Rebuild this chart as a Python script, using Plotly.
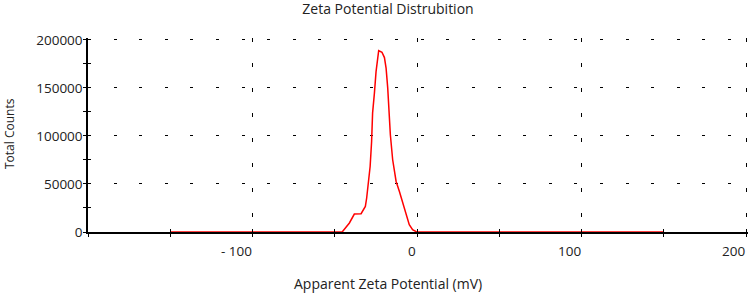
import plotly.graph_objects as go

# Data
potential_mv = [-150, -45.5, -41.1, -38.1, -34.0, -31.4, -30.6, -29.4, -28.5, -27.6, -27.0,
                -25.9, -24.9, -23.3, -21.3, -19.8, -18.8, -17.8, -16.8, -16.2, -14.8,
                -12.7, -10.7, -7.7, -4.7, -2.7, -0.2, 150]
total_counts = [0, 0, 9400, 18700, 19000, 26600, 35400, 51000, 68200, 94200, 124000,
                144600, 167000, 188900, 187200, 181600, 170600, 149800, 122000, 101200, 75200,
                52600, 42200, 25000, 7600, 2400, 0, 0]

x_tickvals = [-100, 0, 100, 200]
x_ticktext = ["- 100", "0", "100", "200"]
y_tickvals = [0, 50000, 100000, 150000, 200000]
y_ticktext = ["0", "50000", "100000", "150000", "200000"]

FONT = "Open Sans"
TXT = "#222222"
X_RANGE = [-200, 201.2]
Y_RANGE = [0, 202000]

L, R, T, B = 88, 2, 38, 62
W, H = 750, 294
PW, PH = W - L - R, H - T - B

fig = go.Figure()
fig.add_trace(go.Scatter(x=potential_mv, y=total_counts, mode="lines",
                         line=dict(color="#ff0000", width=1.5), showlegend=False,
                         hoverinfo="skip"))
# invisible trace to activate overlay axes (inside half of crossing ticks)
fig.add_trace(go.Scatter(x=[0], y=[0], xaxis="x2", yaxis="y2", mode="markers",
                         marker=dict(opacity=0), showlegend=False, hoverinfo="skip"))

fig.update_layout(
    width=W, height=H,
    margin=dict(l=L, r=R, t=T, b=B),
    paper_bgcolor="white", plot_bgcolor="white",
    font=dict(family=FONT, size=13, color=TXT),
    title=dict(text="Zeta Potential Distrubition", x=388/W, xref="container",
               xanchor="center", y=1 - 9/H, yref="container", yanchor="middle",
               font=dict(size=14, color=TXT)),
    xaxis=dict(range=X_RANGE, tickvals=x_tickvals + [-200], showticklabels=False,
               showline=True, linecolor="black", linewidth=1.5,
               ticks="outside", ticklen=3, tickwidth=1, tickcolor="black",
               minor=dict(dtick=50, tick0=0, ticks="outside", ticklen=3, tickwidth=1,
                          tickcolor="black", showgrid=False),
               showgrid=True, gridcolor="black", gridwidth=1.3, griddash="4px,21px",
               zeroline=False, layer="below traces"),
    yaxis=dict(range=Y_RANGE, tickvals=y_tickvals, ticktext=y_ticktext,
               showline=True, linecolor="black", linewidth=1.5,
               ticks="outside", ticklen=3, tickwidth=1, tickcolor="black",
               minor=dict(dtick=25000, tick0=0, ticks="outside", ticklen=3, tickwidth=1,
                          tickcolor="black", showgrid=False),
               showgrid=True, gridcolor="black", gridwidth=1, griddash="3px,22.6px",
               zeroline=False, layer="below traces",
               tickfont=dict(size=13.5, color=TXT), ticklabelstandoff=-2),
    xaxis2=dict(overlaying="x", anchor="y2", range=X_RANGE, side="bottom",
                tickvals=x_tickvals + [-200], ticks="inside", ticklen=3, tickwidth=1,
                tickcolor="black",
                minor=dict(dtick=50, tick0=0, ticks="inside", ticklen=3, tickwidth=1,
                           tickcolor="black", showgrid=False),
                showticklabels=False, showgrid=False, zeroline=False, showline=False),
    yaxis2=dict(overlaying="y", anchor="x2", range=Y_RANGE, side="left",
                tickvals=y_tickvals, ticks="inside", ticklen=3, tickwidth=1,
                tickcolor="black",
                minor=dict(dtick=25000, tick0=0, ticks="inside", ticklen=3, tickwidth=1,
                           tickcolor="black", showgrid=False),
                showticklabels=False, showgrid=False, zeroline=False, showline=False),
)
# x tick labels: right-aligned to their tick, as in the reference
for v, t in zip(x_tickvals, x_ticktext):
    fig.add_annotation(text=t, x=v, xref="x", y=0, yref="paper", xanchor="right",
                       yanchor="middle", xshift=1, yshift=-19, showarrow=False,
                       font=dict(size=13.5, color=TXT))
fig.add_annotation(text="Apparent Zeta Potential (mV)", xref="paper", yref="paper",
                   x=(388 - L) / PW, xanchor="center",
                   y=-(283 - (H - B)) / PH, yanchor="middle",
                   showarrow=False, font=dict(size=14, color=TXT))
fig.add_annotation(text="Total Counts", textangle=-90, xref="paper", yref="paper",
                   x=-(L - 9) / PW, xanchor="center",
                   y=(232 - 134) / PH + 0 * 0, yanchor="middle", showarrow=False,
                   font=dict(size=12, color=TXT))

fig.write_html("out.html", config={"displayModeBar": False},
               post_script="document.body.style.margin='0';document.body.style.padding='0';")
